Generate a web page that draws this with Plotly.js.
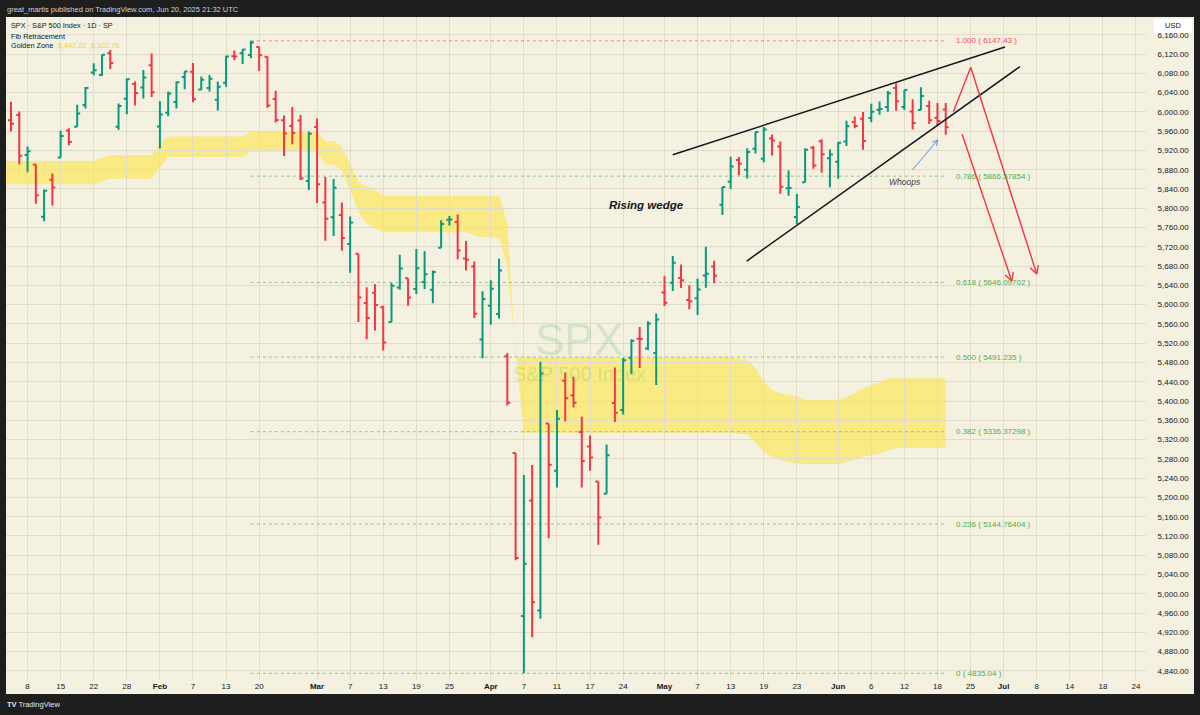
<!DOCTYPE html>
<html><head><meta charset="utf-8">
<script src="https://cdn.plot.ly/plotly-3.0.1.min.js"></script>
<style>html,body{margin:0;padding:0;background:#1e1e1e;}#chart{width:1200px;height:715px;}</style>
</head><body><div id="chart"></div>
<script>
// ---------------- DATA ----------------
const dates = ['2025-01-02','2025-01-03','2025-01-06','2025-01-07','2025-01-08','2025-01-10','2025-01-13','2025-01-14','2025-01-15','2025-01-16','2025-01-17','2025-01-21','2025-01-22','2025-01-23','2025-01-24','2025-01-27','2025-01-28','2025-01-29','2025-01-30','2025-01-31',
'2025-02-03','2025-02-04','2025-02-05','2025-02-06','2025-02-07','2025-02-10','2025-02-11','2025-02-12','2025-02-13','2025-02-14','2025-02-18','2025-02-19','2025-02-20','2025-02-21','2025-02-24','2025-02-25','2025-02-26','2025-02-27','2025-02-28',
'2025-03-03','2025-03-04','2025-03-05','2025-03-06','2025-03-07','2025-03-10','2025-03-11','2025-03-12','2025-03-13','2025-03-14','2025-03-17','2025-03-18','2025-03-19','2025-03-20','2025-03-21','2025-03-24','2025-03-25','2025-03-26','2025-03-27','2025-03-28','2025-03-31',
'2025-04-01','2025-04-02','2025-04-03','2025-04-04','2025-04-07','2025-04-08','2025-04-09','2025-04-10','2025-04-11','2025-04-14','2025-04-15','2025-04-16','2025-04-17','2025-04-21','2025-04-22','2025-04-23','2025-04-24','2025-04-25','2025-04-28','2025-04-29','2025-04-30',
'2025-05-01','2025-05-02','2025-05-05','2025-05-06','2025-05-07','2025-05-08','2025-05-09','2025-05-12','2025-05-13','2025-05-14','2025-05-15','2025-05-16','2025-05-19','2025-05-20','2025-05-21','2025-05-22','2025-05-23','2025-05-27','2025-05-28','2025-05-29','2025-05-30',
'2025-06-02','2025-06-03','2025-06-04','2025-06-05','2025-06-06','2025-06-09','2025-06-10','2025-06-11','2025-06-12','2025-06-13','2025-06-16','2025-06-17','2025-06-18','2025-06-20'];

const futureSessions = ['2025-06-23','2025-06-24','2025-06-25','2025-06-26','2025-06-27','2025-06-30','2025-07-01','2025-07-02','2025-07-03','2025-07-07','2025-07-08','2025-07-09','2025-07-10','2025-07-11','2025-07-14','2025-07-15','2025-07-16','2025-07-17','2025-07-18','2025-07-21','2025-07-22','2025-07-23','2025-07-24','2025-07-25'];

const openP = [5903.26,5891.07,5982.81,5993.26,5910.66,5890.66,5782.32,5859.05,5905.21,5961.50,5969.04,6014.12,6081.39,6076.32,6121.43,5969.04,6026.97,6057.70,6050.75,6096.79,
5969.65,5998.14,6020.45,6072.22,6083.13,6046.40,6049.32,6025.08,6060.59,6115.52,6121.60,6117.76,6134.50,6114.10,6026.69,5982.73,5970.87,5981.88,5856.74,
5968.33,5811.98,5781.43,5785.87,5726.01,5705.37,5603.65,5624.84,5594.45,5563.85,5635.60,5654.53,5632.37,5646.92,5630.73,5718.08,5775.96,5771.66,5695.64,5679.04,5527.91,
5597.53,5580.76,5492.74,5292.14,4953.79,5193.57,4965.28,5353.15,5255.56,5441.96,5411.99,5335.75,5305.45,5232.94,5207.67,5395.92,5381.38,5489.73,5529.22,5508.87,5499.44,
5625.14,5645.45,5655.32,5609.37,5613.09,5660.23,5679.21,5807.35,5854.87,5900.00,5880.05,5923.19,5902.88,5944.66,5928.14,5841.26,5781.89,5854.07,5925.58,5939.24,5903.67,
5896.68,5938.56,5978.94,5985.67,5987.06,6004.60,6009.91,6049.38,6009.90,6000.56,6004.00,6012.15,5987.93,6004.94];
const highP = [5935.09,5949.34,6021.04,6000.68,5927.89,5890.66,5838.80,5871.92,5960.61,5966.00,6014.96,6051.51,6100.81,6118.73,6128.18,6017.17,6069.90,6062.83,6086.64,6120.91,
6022.13,6042.48,6062.86,6084.03,6101.28,6073.38,6076.28,6063.00,6116.91,6127.47,6129.63,6147.43,6134.50,6114.82,6043.65,5992.65,6009.82,5993.69,5959.40,
5986.09,5865.08,5860.59,5812.08,5783.01,5705.37,5636.30,5642.19,5597.78,5645.27,5703.52,5654.53,5715.33,5711.15,5670.84,5775.14,5783.78,5786.95,5732.28,5689.64,5627.56,
5650.57,5695.31,5499.53,5292.14,5246.57,5267.47,5481.34,5353.15,5381.46,5459.46,5450.41,5367.24,5328.31,5232.94,5309.60,5469.69,5489.40,5528.11,5553.66,5565.65,5581.84,
5658.91,5700.70,5683.24,5640.26,5654.18,5720.10,5691.25,5844.19,5906.63,5906.57,5924.57,5958.62,5968.61,5953.06,5938.37,5878.08,5829.51,5924.54,5929.00,5943.13,5922.14,
5937.40,5981.35,5990.48,5999.70,6016.87,6021.31,6043.01,6059.40,6045.43,6026.16,6050.83,6023.25,6018.25,6018.20];
const lowP = [5829.53,5888.66,5960.01,5890.68,5874.78,5809.45,5773.01,5805.56,5905.21,5930.50,5969.04,6006.88,6076.13,6074.67,6088.74,5962.92,5994.81,6012.96,6027.46,6030.93,
5923.93,5990.87,6007.06,6046.83,6019.96,6044.84,6042.34,6003.00,6051.95,6107.62,6099.51,6111.15,6084.59,6008.56,5977.83,5908.49,5932.69,5858.78,5837.66,
5810.91,5732.59,5742.35,5711.64,5666.29,5564.02,5528.41,5546.09,5504.65,5563.85,5631.12,5597.76,5622.20,5632.33,5603.10,5718.08,5764.08,5694.41,5670.94,5572.42,5488.73,
5558.52,5571.48,5390.83,5069.90,4835.04,4910.42,4948.43,5115.27,5220.77,5358.02,5386.44,5220.79,5255.58,5101.63,5207.67,5356.37,5371.96,5455.86,5468.64,5506.13,5433.24,
5597.35,5628.38,5634.48,5590.63,5578.64,5635.19,5644.61,5786.05,5839.68,5868.44,5861.59,5913.38,5895.69,5909.26,5830.27,5825.82,5767.41,5854.07,5881.80,5873.80,5843.66,
5861.43,5929.00,5966.11,5921.20,5978.63,5994.18,6000.26,6002.32,6003.88,5963.21,6004.00,5974.80,5971.89,5952.56];
const closeP = [5868.55,5942.47,5975.38,5909.03,5918.25,5827.04,5836.22,5842.91,5949.91,5937.34,5996.66,6049.24,6086.37,6118.71,6101.24,6012.28,6067.70,6039.31,6071.17,6040.53,
5994.57,6037.88,6061.48,6083.57,6025.99,6066.44,6068.50,6051.97,6115.07,6114.63,6129.58,6144.15,6117.52,6013.13,5983.25,5955.25,5956.06,5861.57,5954.50,
5849.72,5778.15,5842.63,5738.52,5770.20,5614.56,5572.07,5599.30,5521.52,5638.94,5675.12,5614.66,5675.29,5662.89,5667.56,5767.57,5776.65,5712.20,5693.31,5580.94,5611.85,
5633.07,5670.97,5396.52,5074.08,5062.25,4982.77,5456.90,5268.05,5363.36,5405.97,5396.63,5275.70,5282.70,5158.20,5287.76,5375.86,5484.77,5525.21,5528.75,5560.83,5569.06,
5604.14,5686.67,5650.38,5606.91,5631.28,5663.94,5659.91,5844.19,5886.55,5892.58,5916.93,5958.38,5963.60,5940.46,5844.61,5842.01,5802.82,5921.54,5888.55,5912.17,5911.69,
5935.94,5970.37,5970.81,5939.30,6000.36,6005.88,6038.81,6022.24,6045.26,5976.97,6033.11,5982.72,5980.87,5967.84];

// Golden Zone band (upper / lower edge per session)
const bandUpper = [5898,5898,5898,5898,5898,5898,5898,5898,5898,5898,5898,5898,5898,5905,5910,5910,5910,5910,5910,5910,
5932,5949,5949,5949,5949,5949,5949,5949,5949,5949,5949,5959,5959,5959,5959,5959,5959,5959,5959,
5959,5939.5,5939.5,5928,5892,5855,5845,5838,5826,5826,5826,5826,5826,5826,5826,5826,5826,5826,5826,5826,5826,
5826,5826,5769,5491,5491,5491,5491,5491,5491,5491,5491,5491,5491,5491,5491,5491,5491,5491,5491,5491,5491,
5491,5491,5491,5491,5491,5491,5491,5491,5491,5489,5485.6,5468.6,5439.5,5423,5416,5413,5410.5,5402,5402,5402,5402,
5402,5407.7,5416.7,5426.4,5432,5438,5447.22,5447.22,5447.22,5447.22,5447.22,5447.22,5447.22,5447.22];
const bandLower = [5850,5850,5850,5850,5850,5850,5850,5850,5850,5850,5850,5850,5850,5856,5861,5861,5861,5861,5861,5861,
5884,5907,5907,5907,5907,5907,5907,5907,5907,5907,5907,5917,5917,5917,5917,5917,5917,5917,5917,
5917,5891,5891,5879,5838,5792,5769,5759,5750,5750,5750,5750,5750,5750,5750,5750,5750,5750,5750,5744,5740,
5740,5740,5678,5506,5334,5334,5334,5334,5334,5334,5334,5334,5334,5334,5334,5334,5334,5334,5334,5334,5334,
5334,5334,5334,5334,5334,5334,5334,5334,5334,5332,5330.6,5314.8,5295,5284.5,5277.7,5273.5,5270.4,5269.4,5269.4,5269.4,5269.4,
5269.4,5273.5,5278.7,5284.5,5288,5291.6,5297.4,5302.75,5302.75,5302.75,5302.75,5302.75,5302.75,5302.75];

const tickDates = ['2025-01-08','2025-01-15','2025-01-22','2025-01-28','2025-02-03','2025-02-07','2025-02-13','2025-02-20','2025-03-03','2025-03-07','2025-03-13','2025-03-19','2025-03-25','2025-04-01','2025-04-07','2025-04-11','2025-04-17','2025-04-24','2025-05-01','2025-05-07','2025-05-13','2025-05-19','2025-05-23','2025-06-02','2025-06-06','2025-06-12','2025-06-18','2025-06-25','2025-07-01','2025-07-08','2025-07-14','2025-07-18','2025-07-24'];
const tickText = ['8','15','22','28','Feb','7','13','20','Mar','7','13','19','25','Apr','7','11','17','24','May','7','13','19','23','Jun','6','12','18','25','Jul','8','14','18','24'];
const monthTicks = ['Feb','Mar','Apr','May','Jun','Jul'];

// Fib retracement (Feb 19 high -> Apr 7 low)
const fibPrices = [6147.43,5866.57854,5646.09702,5491.235,5336.37298,5144.76404,4835.04];
const fibLabels = ['1.000 ( 6147.43 )','0.786 ( 5866.57854 )','0.618 ( 5646.09702 )','0.500 ( 5491.235 )','0.382 ( 5336.37298 )','0.236 ( 5144.76404 )','0 ( 4835.04 )'];
const fibStartDate = '2025-02-19', fibEndDate = '2025-06-20';

// Drawings (session index, price)
const wedgeUpperX = [82.0,122.16], wedgeUpperY = [5911,6134.5];
const wedgeLowerX = [90.94,123.98], wedgeLowerY = [5690.5,6094];
const redArrow1X = [115.92,118.02,126.0], redArrow1Y = [6000.3,6092.4,5663.6];
const redArrow2X = [116.97,122.98], redArrow2Y = [5954.0,5649.0];
const blueArrowX = [110.96,114.03], blueArrowY = [5879.3,5941.6];

// ---------------- CHART ----------------
const sessions = dates.concat(futureSessions);
const xi = dates.map((d) => sessions.indexOf(d));
const tickPos = tickDates.map((d) => sessions.indexOf(d));
const W = 1200, H = 715, M = {l: 6, r: 54, t: 17, b: 35};
const plotW = W - M.l - M.r, plotH = H - M.t - M.b;
const xRange = [1.3955, 139.21], yRange = [4821.2, 6196.8];
const px = (x) => (x - M.l) / plotW;
const py = (y) => 1 - (y - M.t) / plotH;
const FONT = 'Liberation Sans, Arial, sans-serif';
const RED = '#f23645', GREEN = '#089981';

function arrowHead(xf, yf, xt, yt, len, ang) {
  const sx = plotW / (xRange[1] - xRange[0]), sy = plotH / (yRange[1] - yRange[0]);
  const dx = (xt - xf) * sx, dy = (yt - yf) * sy;
  const L = Math.hypot(dx, dy), ux = dx / L, uy = dy / L;
  const out = {x: [], y: []};
  [1, -1].forEach((s, k) => {
    const c = Math.cos(ang), sn = Math.sin(ang) * s;
    const rx = ux * c - uy * sn, ry = ux * sn + uy * c;
    out.x.push(xt - len * rx / sx); out.y.push(yt - len * ry / sy);
    if (k === 0) { out.x.push(xt); out.y.push(yt); }
  });
  return out;
}

const traces = [];
traces.push({type: 'ohlc', x: xi, open: openP, high: highP, low: lowP, close: closeP,
  increasing: {line: {color: GREEN, width: 2}}, decreasing: {line: {color: RED, width: 2}},
  tickwidth: 0.36, hoverinfo: 'skip', showlegend: false});

function line(x, y, color, width) {
  traces.push({type: 'scatter', mode: 'lines', x: x, y: y, line: {color: color, width: width}, hoverinfo: 'skip', showlegend: false});
}
line(wedgeUpperX, wedgeUpperY, '#131722', 1.5);
line(wedgeLowerX, wedgeLowerY, '#131722', 1.5);
line(redArrow1X, redArrow1Y, RED, 1.4);
line(redArrow2X, redArrow2Y, RED, 1.4);
line(blueArrowX, blueArrowY, '#5b8ff0', 1);
let h = arrowHead(redArrow1X[1], redArrow1Y[1], redArrow1X[2], redArrow1Y[2], 9, 0.5);
line(h.x, h.y, RED, 1.4);
h = arrowHead(redArrow2X[0], redArrow2Y[0], redArrow2X[1], redArrow2Y[1], 9, 0.5);
line(h.x, h.y, RED, 1.4);
h = arrowHead(blueArrowX[0], blueArrowY[0], blueArrowX[1], blueArrowY[1], 6, 0.5);
line(h.x, h.y, '#5b8ff0', 1);

// band as a data-referenced path below the bars
let bandPath = 'M' + xi.map((x, i) => x + ',' + bandUpper[i]).join('L');
for (let i = xi.length - 1; i >= 0; i--) bandPath += 'L' + xi[i] + ',' + bandLower[i];
bandPath += 'Z';

const fibX0 = sessions.indexOf(fibStartDate), fibX1 = sessions.indexOf(fibEndDate);
const shapes = [
  {type: 'rect', xref: 'paper', yref: 'paper', x0: px(6), x1: px(1194), y0: py(694), y1: py(17), fillcolor: '#f4f1e0', line: {width: 0}, layer: 'below'},
  {type: 'path', xref: 'x', yref: 'y', path: bandPath, fillcolor: '#f9ea84', line: {width: 0}, layer: 'below'},
  {type: 'rect', xref: 'paper', yref: 'paper', x0: px(1154), x1: px(1192), y0: py(33), y1: py(19), fillcolor: '#ffffff', line: {width: 0}, layer: 'above'}
];
const annotations = [];
fibPrices.forEach((p, i) => {
  const top = i === 0;
  shapes.push({type: 'line', xref: 'x', yref: 'y', x0: fibX0, x1: fibX1, y0: p, y1: p,
    line: {color: top ? 'rgba(242,54,69,0.55)' : 'rgba(76,175,80,0.6)', width: 1, dash: 'dot'}, layer: 'between'});
  annotations.push({xref: 'x', yref: 'y', x: fibX1, y: p, xshift: 8, xanchor: 'left', yanchor: 'middle', showarrow: false,
    text: fibLabels[i], font: {family: FONT, size: 8, color: top ? '#f0525e' : '#4caf50'}});
});

const ann = (x, y, text, size, color, anchor, extra) => Object.assign({xref: 'paper', yref: 'paper', x: px(x), y: py(y), text: text, showarrow: false,
  xanchor: anchor || 'left', yanchor: 'middle', borderpad: 0, font: {family: FONT, size: size, color: color}}, extra || {});
annotations.push(ann(6, 9.5, 'great_martis published on TradingView.com, Jun 20, 2025 21:32 UTC', 7.5, '#cfd2d8'));
annotations.push(ann(10, 26, 'SPX · S&P 500 Index · 1D · SP', 7.3, '#131722'));
annotations.push(ann(10, 36, 'Fib Retracement', 7.3, '#131722'));
annotations.push(ann(10, 46, 'Golden Zone', 7.3, '#131722'));
annotations.push(ann(57, 46, bandUpper[bandUpper.length - 1].toLocaleString('en-US', {minimumFractionDigits: 2}), 7.3, '#f3d442'));
annotations.push(ann(90, 46, bandLower[bandLower.length - 1].toLocaleString('en-US', {minimumFractionDigits: 2}), 7.3, '#f3d442'));
annotations.push(ann(1173, 26, 'USD', 7.5, '#131722', 'center'));
annotations.push(ann(6, 704, '<b>TV</b> TradingView', 7.5, '#e8e8e8'));
annotations.push(ann(578.5, 339, 'SPX', 44, 'rgba(76,175,80,0.2)', 'center'));
annotations.push(ann(579, 374, 'S&P 500 Index', 20, 'rgba(76,175,80,0.2)', 'center'));
annotations.push({xref: 'x', yref: 'y', x: 78.77, y: 5806.7, text: '<b><i>Rising wedge</i></b>', showarrow: false, font: {family: FONT, size: 11.5, color: '#131722'}});
annotations.push({xref: 'x', yref: 'y', x: 110.07, y: 5854.4, text: '<i>Whoops</i>', showarrow: false, font: {family: FONT, size: 8.5, color: '#3a3d45'}});

const layout = {
  width: W, height: H, margin: M, paper_bgcolor: '#1e1e1e', plot_bgcolor: 'rgba(0,0,0,0)',
  font: {family: FONT, size: 8, color: '#131722'}, showlegend: false, dragmode: false,
  xaxis: {type: 'linear', range: xRange, tickmode: 'array', tickvals: tickPos,
    ticktext: tickText.map((t) => monthTicks.includes(t) ? '<b>' + t + '</b>' : t),
    showgrid: true, gridcolor: '#e0ddca', gridwidth: 1, zeroline: false, showline: false,
    ticks: '', rangeslider: {visible: false}, fixedrange: true,
    tickfont: {family: FONT, size: 8, color: '#131722'}},
  yaxis: {side: 'right', range: yRange, tickmode: 'linear', tick0: 4840, dtick: 40, tickformat: ',.2f',
    showgrid: true, gridcolor: '#e0ddca', gridwidth: 1, zeroline: false, showline: false,
    ticks: 'outside', ticklen: 9, tickcolor: 'rgba(0,0,0,0)', fixedrange: true,
    tickfont: {family: FONT, size: 8, color: '#131722'}},
  shapes: shapes, annotations: annotations
};
Plotly.newPlot('chart', traces, layout, {displayModeBar: false, staticPlot: true});
</script></body></html>
